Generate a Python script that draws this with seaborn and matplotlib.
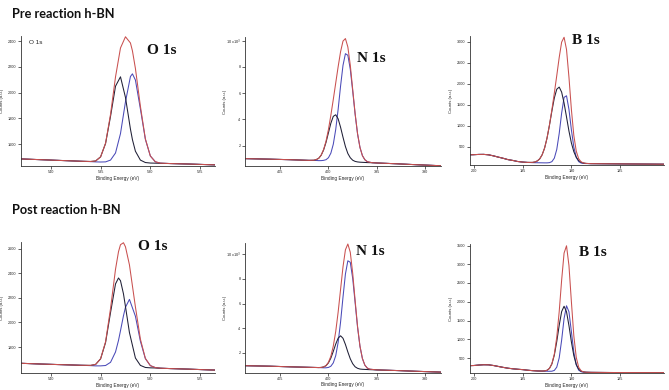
import matplotlib
matplotlib.use("Agg")
import matplotlib.pyplot as plt
import seaborn as sns
import pandas as pd
from matplotlib.ticker import FuncFormatter

# ---------------- data ----------------
# O 1s, pre reaction
o_pre_be = [543, 541, 539, 537, 536, 535.5, 535, 534.5, 534, 533.5, 533, 532.5, 532, 531.8, 531.5,
            531, 530.5, 530, 529.5, 529, 528, 526, 524, 523.5]
o_pre_env = [1485, 1479, 1473, 1467, 1465, 1469, 1501, 1607, 1832, 2122, 2347, 2434, 2386, 2325, 2188,
             1895, 1641, 1508, 1463, 1452, 1449, 1445, 1440, 1439]
o_pre_c1 = [1485, 1479, 1473, 1467, 1465, 1469, 1501, 1605, 1816, 2050, 2123, 1963, 1717, 1635, 1545,
            1476, 1457, 1453, 1452, 1451, 1449, 1445, 1440, 1439]
o_pre_c2 = [1485, 1479, 1473, 1467, 1464, 1462, 1461, 1462, 1476, 1531, 1682, 1928, 2125, 2146, 2098,
            1874, 1638, 1508, 1463, 1452, 1449, 1445, 1440, 1439]

# O 1s, post reaction
o_post_be = [543, 541, 539, 537, 536, 535.5, 535, 534.5, 534, 533.5, 533.2, 533, 532.7, 532.5, 532.1,
             531.5, 531, 530.5, 530, 529.5, 529, 528, 526, 524, 523.5]
o_post_env = [1668, 1662, 1657, 1652, 1651, 1659, 1705, 1843, 2114, 2433, 2576, 2633, 2649, 2616, 2469,
              2127, 1865, 1708, 1649, 1633, 1628, 1625, 1620, 1614, 1613]
o_post_c1 = [1668, 1662, 1657, 1652, 1651, 1659, 1704, 1837, 2081, 2314, 2362, 2340, 2233, 2130, 1918,
             1711, 1651, 1634, 1631, 1630, 1628, 1625, 1620, 1614, 1613]
o_post_c2 = [1668, 1662, 1657, 1652, 1649, 1647, 1647, 1650, 1676, 1760, 1854, 1933, 2055, 2124, 2188,
             2051, 1848, 1706, 1649, 1633, 1628, 1625, 1620, 1614, 1613]

# N 1s, pre reaction (counts x10^3)
n_pre_be = [408.6, 406, 404, 402, 401.5, 401.25, 401.0, 400.75, 400.5, 400.25, 400.0, 399.75, 399.5,
            399.25, 399.0, 398.75, 398.5, 398.25, 398.0, 397.75, 397.5, 397.25, 397.0, 396.75, 396.5,
            396.25, 396.0, 395.5, 395, 393, 391, 388.4]
n_pre_env = [1.02, 0.98, 0.94, 0.89, 0.90, 0.95, 1.05, 1.29, 1.71, 2.35, 3.24, 4.33, 5.53, 6.78, 8.02,
             9.16, 9.97, 10.16, 9.52, 8.14, 6.29, 4.45, 2.92, 1.87, 1.25, 0.94, 0.79, 0.71, 0.69, 0.63,
             0.56, 0.48]
n_pre_c1 = [1.02, 0.98, 0.94, 0.89, 0.90, 0.95, 1.05, 1.28, 1.68, 2.26, 2.99, 3.72, 4.24, 4.36, 4.05,
            3.41, 2.65, 1.94, 1.41, 1.09, 0.90, 0.81, 0.77, 0.75, 0.74, 0.73, 0.72, 0.71, 0.69, 0.63,
            0.56, 0.48]
n_pre_c2 = [1.02, 0.98, 0.94, 0.89, 0.88, 0.88, 0.87, 0.87, 0.89, 0.94, 1.09, 1.44, 2.12, 3.24, 4.78,
            6.55, 8.12, 9.01, 8.89, 7.83, 6.16, 4.40, 2.90, 1.87, 1.25, 0.94, 0.79, 0.71, 0.69, 0.63,
            0.56, 0.48]

# N 1s, post reaction (counts x10^3)
n_post_be = [408.6, 406, 404, 402, 401, 400.75, 400.5, 400.25, 400.0, 399.75, 399.5, 399.25, 399.0,
             398.75, 398.5, 398.25, 398.0, 397.75, 397.5, 397.25, 397.0, 396.75, 396.5, 396.25, 396.0,
             395.75, 395, 393, 391, 388.4]
n_post_env = [0.97, 0.93, 0.88, 0.84, 0.82, 0.83, 0.87, 0.98, 1.25, 1.74, 2.56, 3.74, 5.31, 7.15, 8.97,
              10.35, 10.82, 10.15, 8.45, 6.25, 4.15, 2.55, 1.55, 1.02, 0.78, 0.69, 0.63, 0.58, 0.52, 0.45]
n_post_c1 = [0.97, 0.93, 0.88, 0.84, 0.82, 0.83, 0.87, 0.97, 1.20, 1.59, 2.13, 2.72, 3.20, 3.39, 3.19,
             2.69, 2.08, 1.53, 1.13, 0.88, 0.76, 0.70, 0.68, 0.67, 0.66, 0.65, 0.63, 0.58, 0.52, 0.45]
n_post_c2 = [0.97, 0.93, 0.88, 0.84, 0.82, 0.81, 0.80, 0.80, 0.83, 0.93, 1.20, 1.78, 2.86, 4.51, 6.52,
             8.39, 9.46, 9.34, 8.03, 6.07, 4.08, 2.53, 1.55, 1.02, 0.78, 0.69, 0.63, 0.58, 0.52, 0.45]

# B 1s, pre reaction
b_pre_be = [200.4, 200, 199.5, 199, 198.5, 198, 197.5, 197, 196.5, 196, 195.5, 195, 194.5, 194.0,
            193.75, 193.5, 193.25, 193.0, 192.75, 192.5, 192.25, 192.0, 191.75, 191.5, 191.25, 191.0,
            190.75, 190.5, 190.25, 190.0, 189.75, 189.5, 189.25, 189.0, 188.75, 188.5, 188, 187, 186,
            185, 183, 181, 180.5]
b_pre_left = [305, 308, 314, 315, 305, 280, 250, 222, 190, 170, 145, 132, 124]
b_pre_right = [94, 92, 90, 88, 85, 82, 81]
b_pre_env = b_pre_left + [124, 134, 158, 208, 305, 464, 703, 1015, 1380, 1775, 2192, 2623, 2989, 3105,
                          2813, 2155, 1385, 766, 391, 210, 137, 110, 100] + b_pre_right
b_pre_c1 = b_pre_left + [124, 134, 158, 208, 305, 464, 702, 1008, 1348, 1659, 1867, 1918, 1798, 1537,
                         1206, 871, 587, 379, 245, 167, 127, 108, 100] + b_pre_right
b_pre_c2 = b_pre_left + [118, 117, 116, 115, 114, 113, 113, 118, 142, 225, 433, 812, 1297, 1673, 1711,
                         1387, 900, 488, 246, 142, 108, 99, 96] + b_pre_right

# B 1s, post reaction
b_post_be = [200.4, 200, 199.5, 199, 198.5, 198, 197.5, 197, 196.5, 196, 195.5, 195, 194.5, 194,
             193.5, 193.0, 192.75, 192.5, 192.25, 192.0, 191.75, 191.5, 191.25, 191.0, 190.75, 190.5,
             190.25, 190.0, 189.75, 189.5, 189.25, 189.0, 188.75, 188.5, 188, 187, 186, 185, 183, 181,
             180.5]
b_post_left = [296, 300, 312, 320, 318, 300, 275, 250, 228, 212, 200, 190, 175, 163, 155]
b_post_right = [117, 115, 113, 112, 111, 110, 110]
b_post_env = b_post_left + [152, 156, 172, 223, 347, 604, 1055, 1736, 2576, 3298, 3492, 2967, 2003,
                            1091, 516, 252, 158, 129, 121] + b_post_right
b_post_c1 = b_post_left + [152, 156, 172, 222, 342, 577, 939, 1371, 1737, 1880, 1733, 1364, 929, 563,
                           325, 201, 148, 128, 121] + b_post_right
b_post_c2 = b_post_left + [150, 149, 147, 146, 148, 169, 256, 503, 976, 1553, 1892, 1734, 1204, 656,
                           317, 175, 133, 122, 119] + b_post_right

o_xticks = [540, 535, 530, 525]
n_xticks = [405, 400, 395, 390]
b_xticks = [200, 195, 190, 185]
o_pre_yticks = [1600, 1800, 2000, 2200, 2400]
o_post_yticks = [1800, 2000, 2200, 2400, 2600]
n_yticks = [2, 4, 6, 8, 10]
b_pre_yticks = [500, 1000, 1500, 2000, 2500, 3000]
b_post_yticks = [500, 1000, 1500, 2000, 2500, 3000, 3500]

row_titles = ["Pre reaction h-BN", "Post reaction h-BN"]
peak_labels = ["O 1s", "N 1s", "B 1s"]

# ---------------- styling ----------------
sns.set_theme(style="white")
plt.rcParams["font.family"] = ["Liberation Sans", "DejaVu Sans"]

RED = "#c9504f"
BLK = "#1f1f36"
BLU = "#4a4ab8"
W, H = 669, 390

fig = plt.figure(figsize=(W / 100, H / 100), dpi=100)
fig.patch.set_facecolor("white")


def box(l, r, t, b):
    return [l / W, 1 - b / H, (r - l) / W, (b - t) / H]


def panel(rect, be, env, c1, c2, xlim, ylim, xticks, yticks, sci=False):
    ax = fig.add_axes(rect)
    df = pd.DataFrame({"be": be, "env": env, "c1": c1, "c2": c2})
    for col, colr in (("c2", BLU), ("c1", BLK), ("env", RED)):
        sns.lineplot(data=df, x="be", y=col, ax=ax, color=colr, lw=0.75,
                     estimator=None, sort=False, legend=False)
    ax.set_xlim(*xlim)
    ax.set_ylim(*ylim)
    ax.set_xticks(xticks)
    ax.set_yticks(yticks)
    if sci:
        ax.yaxis.set_major_formatter(FuncFormatter(
            lambda v, p: "10 x10$^3$" if abs(v - 10) < 1e-6 else f"{v:g}"))
    else:
        ax.yaxis.set_major_formatter(FuncFormatter(lambda v, p: f"{v:g}"))
    ax.xaxis.set_major_formatter(FuncFormatter(lambda v, p: f"{v:g}"))
    for s in ("top", "right"):
        ax.spines[s].set_visible(False)
    for s in ("left", "bottom"):
        ax.spines[s].set_color("#333333")
        ax.spines[s].set_linewidth(0.6)
    ax.tick_params(direction="out", length=2, width=0.5, labelsize=2.7, pad=1.2,
                   colors="#222222", left=True, bottom=True)
    ax.set_xlabel("Binding Energy (eV)", fontsize=3.4, labelpad=1.0)
    ax.set_ylabel("Counts (a.u.)", fontsize=3.1)
    ax.yaxis.set_label_coords(-0.09, 0.5)
    ax.set_facecolor("white")
    return ax


panel(box(21, 215, 36, 166), o_pre_be, o_pre_env, o_pre_c1, o_pre_c2,
      (543, 523.5), (1430, 2440), o_xticks, o_pre_yticks)
panel(box(245, 441, 37, 166), n_pre_be, n_pre_env, n_pre_c1, n_pre_c2,
      (408.6, 388.4), (0.46, 10.28), n_xticks, n_yticks, sci=True)
panel(box(470, 664, 36, 165), b_pre_be, b_pre_env, b_pre_c1, b_pre_c2,
      (200.4, 180.5), (62, 3135), b_xticks, b_pre_yticks)
panel(box(21, 215, 242, 373), o_post_be, o_post_env, o_post_c1, o_post_c2,
      (543, 523.5), (1589, 2655), o_xticks, o_post_yticks)
panel(box(245, 441, 243, 372.5), n_post_be, n_post_env, n_post_c1, n_post_c2,
      (408.6, 388.4), (0.42, 10.9), n_xticks, n_yticks, sci=True)
panel(box(470, 664, 244, 373), b_post_be, b_post_env, b_post_c1, b_post_c2,
      (200.4, 180.5), (100, 3540), b_xticks, b_post_yticks)

# row titles
fig.text(12 / W, 1 - 18.5 / H, row_titles[0], fontsize=9.2, fontweight="bold",
         family=["Lato", "DejaVu Sans"], va="baseline", ha="left", color="#111111")
fig.text(12 / W, 1 - 214 / H, row_titles[1], fontsize=9.2, fontweight="bold",
         family=["Lato", "DejaVu Sans"], va="baseline", ha="left", color="#111111")

# big peak labels
big = dict(fontsize=11, fontweight="bold", family=["Liberation Serif", "DejaVu Serif"],
           ha="center", va="center", color="#111111")
for (px, py), lab in zip([(162, 50), (371, 58), (586, 40)], peak_labels):
    fig.text(px / W, 1 - py / H, lab, **big)
for (px, py), lab in zip([(153, 247), (370, 251), (593, 253)], peak_labels):
    fig.text(px / W, 1 - py / H, lab, **big)

# small annotation inside the first panel
fig.text(29 / W, 1 - 42 / H, "O 1s", fontsize=4.6, ha="left", va="center", color="#222222")

fig.savefig("out.png", dpi=100, facecolor="white")
